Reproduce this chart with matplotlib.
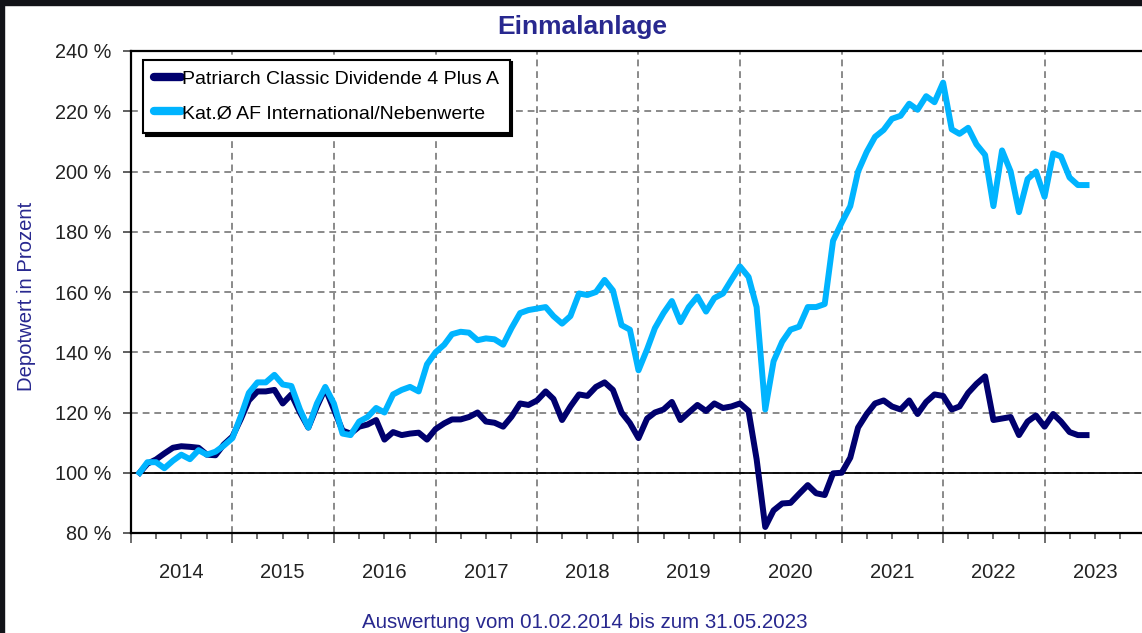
import pandas as pd
import matplotlib
matplotlib.use("Agg")
import matplotlib.pyplot as plt
import matplotlib.dates as mdates
from matplotlib.patches import Rectangle
from matplotlib.transforms import blended_transform_factory

# monthly values in %, 01.02.2014 .. 31.05.2023
dates = pd.date_range("2014-02-01", periods=113, freq="MS")

patriarch = [
    100, 103, 104.4, 106.4, 108.3, 108.8, 108.6, 108.3, 106, 105.8, 109.4,
    112, 118, 124, 127, 127, 127.5, 123, 126, 120, 115, 122, 128,
    121, 114, 113, 115.3, 116, 117.5, 111, 113.5, 112.5, 113, 113.3, 111,
    114.5, 116.4, 117.7, 117.7, 118.5, 120, 117, 116.6, 115.3, 118.6, 123, 122.5,
    124, 127, 124.5, 117.5, 122, 126, 125.5, 128.5, 130, 127.5, 120, 116.5,
    111.5, 118, 120, 121, 123.5, 117.5, 120, 122.5, 120.5, 123, 121.5, 122,
    123, 120.5, 104.5, 82, 87.5, 89.8, 90, 93, 95.9, 93.2, 92.6, 99.8,
    100, 105, 115, 119.5, 123, 124, 122, 121, 124, 119.5, 123.5, 126,
    125.5, 121, 122, 126.5, 129.5, 132, 117.5, 118, 118.5, 112.5, 117, 119,
    115.3, 119.5, 117, 113.5, 112.5, 112.5,
]

kategorie = [
    100, 103.5, 103.5, 101.5, 104, 106, 104.5, 107.5, 106, 107, 109,
    111.5, 119, 126.5, 130, 130, 132.5, 129.3, 128.8, 121, 115, 123, 128.5,
    123, 113, 112.5, 117, 118.5, 121.5, 120, 126, 127.5, 128.5, 127, 136,
    140, 142.5, 146, 146.8, 146.5, 144, 144.6, 144.3, 142.5, 148, 153, 154,
    154.5, 155, 152, 149.5, 152, 159.5, 159, 160, 164, 160.5, 149, 147.5,
    134, 141, 148, 153, 157, 150, 155, 158.5, 153.5, 158, 159.5, 164,
    168.5, 165, 155, 121, 137, 143.5, 147.5, 148.5, 155, 155, 156, 177,
    183, 188.5, 200, 206.5, 211.5, 213.8, 217.5, 218.5, 222.5, 220.5, 225, 223,
    229.5, 214, 212.5, 214.5, 209, 205.5, 188.5, 207, 200, 186.5, 197.5, 200,
    191.6, 206, 205, 198, 195.5, 195.5,
]

series_names = ["Patriarch Classic Dividende 4 Plus A",
                "Kat.\u00d8 AF International/Nebenwerte"]
years = list(range(2014, 2024))
y_ticks = list(range(80, 241, 20))

FONT = "Liberation Sans"
TXT_BLUE = "#28288f"

fig = plt.figure(figsize=(11.42, 6.33), dpi=100)
fig.patch.set_facecolor("white")
W, H = 1142, 633
# dark screenshot edges
fig.patches.append(Rectangle((0, 1 - 5 / H), 1, 5 / H, transform=fig.transFigure,
                             color="#121318", zorder=10))
fig.patches.append(Rectangle((0, 0), 4 / W, 1, transform=fig.transFigure,
                             color="#121318", zorder=10))

ax = fig.add_axes([131 / W, 1 - 533 / H, (1146 - 131) / W, 482 / H])

ax.plot(dates, patriarch, color="#00006e", lw=4.3, solid_joinstyle="round",
        label=series_names[0], zorder=3)
ax.plot(dates, kategorie, color="#00b4ff", lw=4.3, solid_joinstyle="round",
        label=series_names[1], zorder=4)

ax.set_xlim(pd.Timestamp("2014-01-01"), pd.Timestamp("2024-01-01"))
ax.set_ylim(80, 240)

ax.set_yticks(y_ticks)
ax.set_yticklabels([f"{v} %" for v in y_ticks])
ax.xaxis.set_major_locator(mdates.YearLocator())
ax.xaxis.set_minor_locator(mdates.MonthLocator(bymonth=(4, 7, 10)))
ax.xaxis.set_major_formatter(plt.NullFormatter())

ax.tick_params(axis="y", direction="out", length=6, width=1.2, pad=8,
               labelsize=14.3, labelcolor="#222222", color="#444444")
ax.tick_params(axis="x", which="major", direction="out", length=7, width=1.2,
               color="#555555")
ax.tick_params(axis="x", which="minor", direction="out", length=4, width=1.2,
               color="#555555")
for lab in ax.get_yticklabels():
    lab.set_fontfamily(FONT)

trans = blended_transform_factory(ax.transData, ax.transAxes)
for yr in years:
    ax.text(pd.Timestamp(f"{yr}-07-01"), -0.081, str(yr), transform=trans,
            ha="center", va="center", fontsize=14.5, family=FONT, color="#222222")

grid_kw = dict(color="#8a8a8a", lw=1.4, dashes=(3.5, 2.5))
ax.grid(True, axis="x", which="major", **grid_kw)
ax.grid(True, axis="y", **grid_kw)
ax.axhline(100, color="black", lw=1.3, zorder=2)

for side in ["left", "bottom", "top", "right"]:
    ax.spines[side].set_color("black")
    ax.spines[side].set_linewidth(1.6)

ax.set_ylabel("Depotwert in Prozent", fontsize=14.6, family=FONT, color=TXT_BLUE)
ax.yaxis.set_label_coords(-0.0935, 0.49)

leg = ax.legend(loc="upper left", bbox_to_anchor=(0.0118, 0.982),
                borderaxespad=0, fancybox=False,
                shadow={"color": "black", "alpha": 1},
                prop={"family": FONT, "size": 14},
                handlelength=1.4, handletextpad=0.05, borderpad=0.55,
                labelspacing=0.85, framealpha=1)
leg.get_frame().set_edgecolor("black")
leg.get_frame().set_linewidth(1.5)
for h in leg.get_lines():
    h.set_linewidth(6)
    h.set_solid_capstyle("round")

fig.text(582 / W, 1 - 27 / H, "Einmalanlage", ha="center", va="center",
         fontsize=19, fontweight="bold", family=FONT, color=TXT_BLUE)
fig.text(585 / W, 1 - 622 / H, "Auswertung vom 01.02.2014 bis zum 31.05.2023",
         ha="center", va="center", fontsize=14.8, family=FONT, color=TXT_BLUE)

fig.savefig("out.png", dpi=100)
